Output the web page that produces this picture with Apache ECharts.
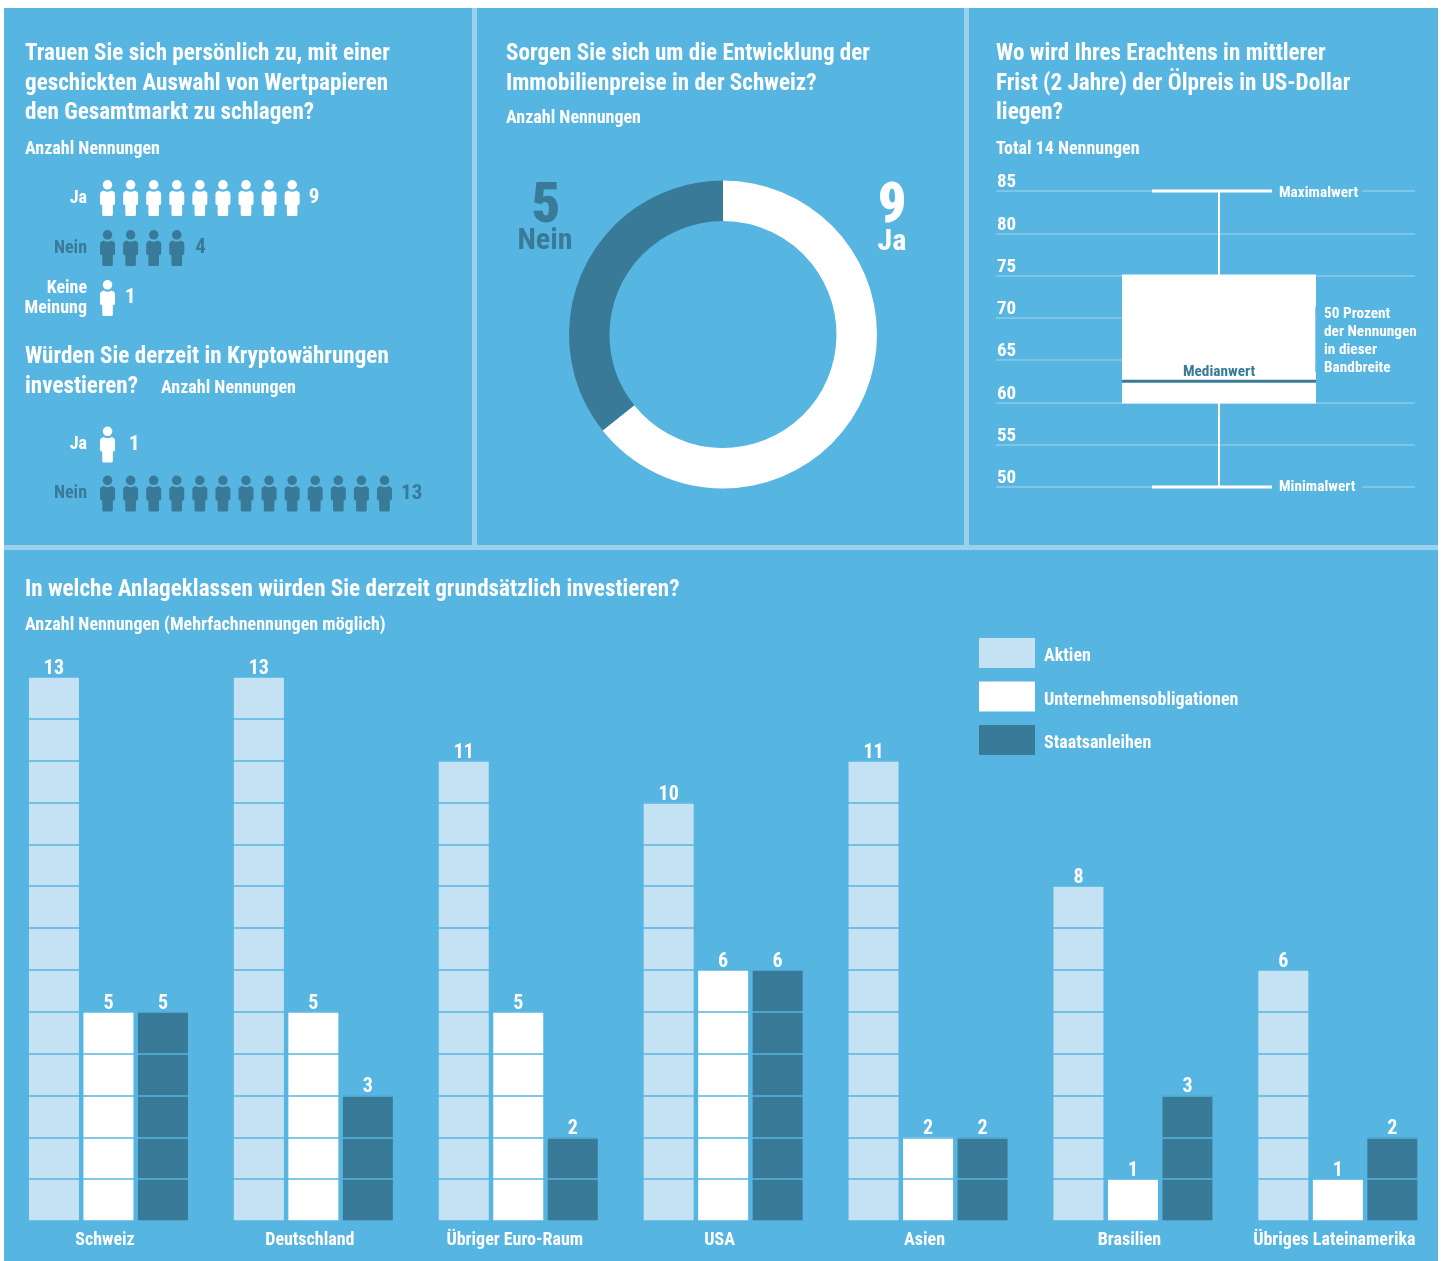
<!DOCTYPE html>
<html><head><meta charset="utf-8">
<style>html,body{margin:0;padding:0;background:#fff}#c{width:1443px;height:1261px}</style>
<script src="https://cdn.jsdelivr.net/npm/echarts@6/dist/echarts.min.js"></script>
</head><body><div id="c"></div>
<script>
// ---- data ----
const stockCats = ['Ja','Nein','Keine\nMeinung'];
const stockVals = [9,4,1];
const cryptoCats = ['Ja','Nein'];
const cryptoVals = [1,13];
const worryCats = ['Ja','Nein'];
const worryVals = [9,5];
const oilTicks = [50,55,60,65,70,75,80,85];
const oilBox = [50,60,62.5,75,85]; // min, Q1, median, Q3, max
const assetCats = ['Schweiz','Deutschland','Übriger Euro-Raum','USA','Asien','Brasilien','Übriges Lateinamerika'];
const aktien = [13,13,11,10,11,8,6];
const unternehmen = [5,5,5,6,2,1,1];
const staats = [5,3,2,6,2,3,2];

// ---- style ----
const BG='#56B5E1', SEP='#9BD0EE', DARK='#397A98', LIGHT='#C5E2F4', WHITE='#fff', LINE='#8DCBEA';
const FAM='Roboto';
const LBL={fontFamily:FAM,fontStyle:'condensed',fontWeight:'bold'};
const PERSON='path://M7.5 0A4.8 4.8 0 1 1 7.49 0ZM3.5 10.5Q7.5 13 11.5 10.5L13.5 11.5Q15 12.2 15 14L15 23Q15 25 13.8 25L12.8 25L12.8 34.5Q12.8 36 11.3 36L3.7 36Q2.2 36 2.2 34.5L2.2 25L1.2 25Q0 25 0 23L0 14Q0 12.2 1.5 11.5Z';

function rect(x,y,w,h,fill,z){return {type:'rect',shape:{x,y,width:w,height:h},style:{fill},z:z||0,silent:true};}
function txt(x,y,t,size,fill,opt){opt=opt||{};return {type:'text',x,y:y+2,z:opt.z||20,silent:true,
  style:{text:t,fill:fill||WHITE,font:'condensed '+(opt.weight||'bold')+' '+size+'px '+FAM,textAlign:opt.align||'left',textVerticalAlign:'middle'}};}
const H1=23.1, H2=18, H3=15.3;
const graphics=[
  rect(4,8,1434,1253,SEP),
  rect(4,8,468,537,BG), rect(477,8,487,537,BG), rect(969,8,469,537,BG), rect(4,550,1434,711,BG),
  rect(1438,600,5,661,WHITE,40),
  txt(25,52,'Trauen Sie sich persönlich zu, mit einer',H1), txt(25,82,'geschickten Auswahl von Wertpapieren',H1), txt(25,111,'den Gesamtmarkt zu schlagen?',H1),
  txt(25,147,'Anzahl Nennungen',H2),
  txt(25,355,'Würden Sie derzeit in Kryptowährungen',H1), txt(25,385,'investieren?',H1), txt(161,386,'Anzahl Nennungen',H2),
  txt(506,52,'Sorgen Sie sich um die Entwicklung der',H1), txt(506,82,'Immobilienpreise in der Schweiz?',H1), txt(506,116,'Anzahl Nennungen',H2),
  txt(996,52,'Wo wird Ihres Erachtens in mittlerer',H1), txt(996,82,'Frist (2 Jahre) der Ölpreis in US-Dollar',H1), txt(996,111,'liegen?',H1),
  txt(996,147,'Total 14 Nennungen',H2),
  txt(546,206,String(worryVals[1]),56,DARK,{align:'center',weight:900}), txt(545,239,worryCats[1],30,DARK,{align:'center'}),
  txt(892,206,String(worryVals[0]),56,WHITE,{align:'center',weight:900}), txt(892,240,worryCats[0],30,WHITE,{align:'center'}),
  rect(1272,186,90,10,BG,10), rect(1272,481,90,10,BG,10), rect(1317,300,103,78,BG,10), rect(1315,307,1,65,LINE,10),
  txt(1279,191,'Maximalwert',H3), txt(1279,485,'Minimalwert',H3),
  txt(1324,312,'50 Prozent',H3), txt(1324,330,'der Nennungen',H3), txt(1324,348,'in dieser',H3), txt(1324,366,'Bandbreite',H3),
  txt(1219,370,'Medianwert',H3,DARK,{align:'center'}),
  txt(25,588,'In welche Anlageklassen würden Sie derzeit grundsätzlich investieren?',H1),
  txt(25,623,'Anzahl Nennungen (Mehrfachnennungen möglich)',H2)
];

function peopleSeries(vals,cols,dists,xi){
  return {type:'pictorialBar',xAxisIndex:xi,yAxisIndex:xi,symbol:PERSON,symbolSize:[15,36],symbolRepeat:true,symbolMargin:'4.04!',
    barWidth:36,z:5,
    data:vals.map((v,i)=>({value:v,itemStyle:{color:cols[i]},
      label:Object.assign({show:true,position:'right',distance:dists[i],color:cols[i],fontSize:21},LBL)}))};
}
function catAxis(gi,data,cols){return {gridIndex:gi,type:'category',inverse:true,data,axisLine:{show:false},axisTick:{show:false},splitLine:{show:false},
  axisLabel:Object.assign({margin:9,fontSize:18,lineHeight:20,align:'right',color:(v,i)=>cols[i]},LBL)};}
function valAxis(gi){return {gridIndex:gi,type:'value',min:0,max:14,show:false};}

const bar=(name,data,color)=>({type:'bar',name,data,xAxisIndex:3,yAxisIndex:3,barWidth:50,barGap:'9%',z:2,itemStyle:{color},
  label:Object.assign({show:true,position:'top',distance:-2,color:WHITE,fontSize:20},LBL)});

const BOX_DX=13.5, BOX_W=194, CAP_L=67, CAP_R=53;
function renderBox(p,api){
  const v=[api.value(0),api.value(1),api.value(2),api.value(3),api.value(4)];
  const cx=api.coord([0,v[0]])[0]+BOX_DX, y=x=>api.coord([0,x])[1];
  const ln=(x1,y1,x2,y2,stroke,lw)=>({type:'line',shape:{x1,y1,x2,y2},style:{stroke,lineWidth:lw}});
  return {type:'group',children:[
    ln(cx,y(v[0]),cx,y(v[4]),WHITE,2),
    ln(cx-CAP_L,y(v[0]),cx+CAP_R,y(v[0]),WHITE,3),
    ln(cx-CAP_L,y(v[4]),cx+CAP_R,y(v[4]),WHITE,3),
    {type:'rect',shape:{x:cx-BOX_W/2,y:y(v[3])-1,width:BOX_W,height:y(v[1])-y(v[3])+2},style:{fill:WHITE}},
    ln(cx-BOX_W/2,y(v[2]),cx+BOX_W/2,y(v[2]),DARK,3)
  ]};
}

const option={
  animation:false,
  textStyle:{fontFamily:FAM},
  graphic:{elements:graphics},
  legend:{left:979,top:638,padding:0,orient:'vertical',itemWidth:56,itemHeight:30,itemGap:13.5,z:30,icon:'rect',selectedMode:false,
    formatter:n=>'{a|'+n+'}',
    textStyle:{rich:{a:Object.assign({color:WHITE,fontSize:18,padding:[7,0,0,4]},LBL)}},
    data:['Aktien','Unternehmensobligationen','Staatsanleihen']},
  grid:[
    {left:96,top:173,width:323.1,height:150},
    {left:96,top:420,width:323.1,height:98},
    {left:996,width:419,top:191,height:296},
    {left:6,width:1434.3,top:677,height:544}
  ],
  xAxis:[valAxis(0),valAxis(1),
    {gridIndex:2,type:'category',data:['Ölpreis'],show:false},
    {gridIndex:3,type:'category',data:assetCats,axisLine:{show:false},axisTick:{show:false},
      axisLabel:Object.assign({interval:0,margin:10,color:WHITE,fontSize:18,padding:[0,7,0,0]},LBL)}],
  yAxis:[catAxis(0,stockCats,[WHITE,DARK,WHITE]),catAxis(1,cryptoCats,[WHITE,DARK]),
    {gridIndex:2,type:'value',min:oilTicks[0],max:oilTicks[oilTicks.length-1],interval:5,axisLine:{show:false},axisTick:{show:false},
      splitLine:{lineStyle:{color:LINE,width:1.5}},
      axisLabel:Object.assign({inside:true,margin:1,verticalAlign:'bottom',lineHeight:17,color:WHITE,fontSize:19},LBL)},
    {gridIndex:3,type:'value',min:0,max:13,interval:1,z:10,axisLine:{show:false},axisTick:{show:false},axisLabel:{show:false},
      splitLine:{lineStyle:{color:BG,width:1.5}}}],
  series:[
    peopleSeries(stockVals,[WHITE,DARK,WHITE],[5,7,6],0),
    peopleSeries(cryptoVals,[WHITE,DARK],[10,5],1),
    {type:'pie',center:[723,334.5],radius:[113.5,154],startAngle:90,clockwise:true,label:{show:false},labelLine:{show:false},silent:true,z:5,
      data:[{name:worryCats[0],value:worryVals[0],itemStyle:{color:WHITE}},{name:worryCats[1],value:worryVals[1],itemStyle:{color:DARK}}]},
    {type:'custom',xAxisIndex:2,yAxisIndex:2,z:5,renderItem:renderBox,encode:{x:0,y:[0,1,2,3,4]},data:[oilBox]},
    bar('Aktien',aktien,LIGHT),bar('Unternehmensobligationen',unternehmen,WHITE),bar('Staatsanleihen',staats,DARK)
  ]
};
echarts.init(document.getElementById('c'),null,{renderer:'canvas'}).setOption(option);
</script></body></html>
